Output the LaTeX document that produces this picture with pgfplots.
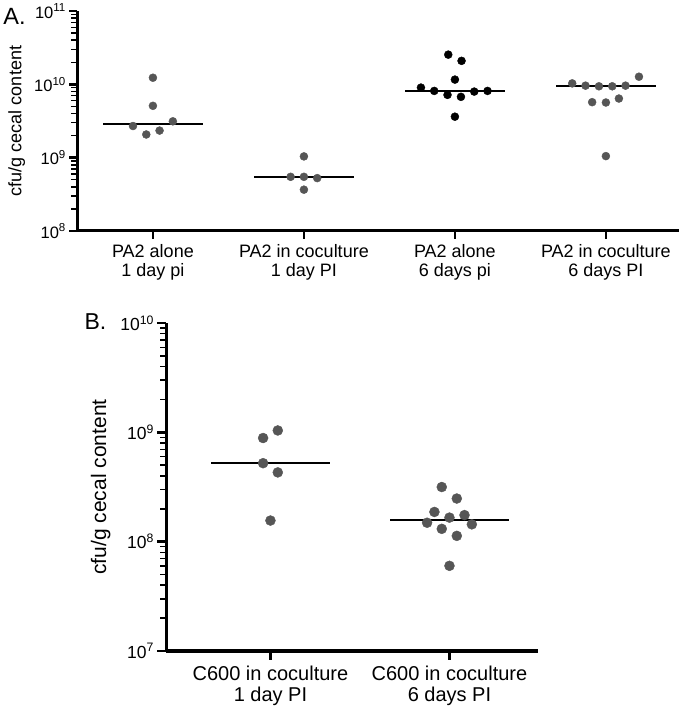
\documentclass[border=0pt]{standalone}
\usepackage{fontspec}
\setmainfont{Liberation Sans}
\usepackage{pgfplots}
\pgfplotsset{compat=1.18}
\definecolor{dotgray}{RGB}{86,86,86}

\begin{document}
\begin{tikzpicture}
\path (0,0) rectangle (680pt,710pt);

% Panel A
\begin{axis}[
  scale only axis, anchor=south west, ymode=log,
  axis x line*=bottom, axis y line*=left,
  axis line style={line width=3pt, black},
  tick align=outside,
  xtick pos=bottom, ytick pos=left,
  major tick length=8pt, minor tick length=6pt,
  tick style={black, line width=2.5pt},
  minor tick style={black, line width=1.5pt},
  at={(76pt,479pt)}, width=602pt, height=220pt,
  xmin=0.5, xmax=4.487, ymin=1e8, ymax=1e11,
  xtick={1,2,3,4},
  xticklabels={PA2 alone\\1 day pi, PA2 in coculture\\1 day PI, PA2 alone\\6 days pi, PA2 in coculture\\6 days PI},
  xticklabel style={align=center, font=\fontsize{18}{18.5}\selectfont, yshift=-2pt},
  ytick={1e8,1e9,1e10,1e11},
  yticklabels={10\textsuperscript{8},10\textsuperscript{9},10\textsuperscript{10},10\textsuperscript{11}},
  yticklabel style={font=\fontsize{16.5}{16.5}\selectfont},
  minor ytick={2e8,3e8,4e8,5e8,6e8,7e8,8e8,9e8,2e9,3e9,4e9,5e9,6e9,7e9,8e9,9e9,2e10,3e10,4e10,5e10,6e10,7e10,8e10,9e10},
  ylabel={cfu/g cecal content},
  ylabel style={font=\fontsize{18}{18}\selectfont, at={(axis description cs:-0.101,0.5)}, anchor=center},
]
\addplot[only marks, mark=*, mark size=4pt, mark options={fill=dotgray, draw=dotgray}] coordinates {(1,1.23e10) (1,5.09e9) (0.868,2.70e9) (1.132,3.13e9) (0.956,2.07e9) (1.044,2.34e9)};
\addplot[black, line width=2pt, no marks] coordinates {(0.67,2.91e9) (1.33,2.91e9)};
\addplot[only marks, mark=*, mark size=4pt, mark options={fill=dotgray, draw=dotgray}] coordinates {(2,1.04e9) (1.912,5.48e8) (2,5.48e8) (2.088,5.26e8) (2,3.66e8)};
\addplot[black, line width=2pt, no marks] coordinates {(1.67,5.37e8) (2.33,5.37e8)};
\addplot[only marks, mark=*, mark size=4pt, mark options={fill=black, draw=black}] coordinates {(2.956,2.54e10) (3.044,2.09e10) (3,1.16e10) (2.775,9.02e9) (2.863,8.13e9) (2.951,7.18e9) (3.040,6.75e9) (3.128,7.96e9) (3.216,8.13e9) (3,3.62e9)};
\addplot[black, line width=2pt, no marks] coordinates {(2.67,8.04e9) (3.33,8.04e9)};
\addplot[only marks, mark=*, mark size=4pt, mark options={fill=dotgray, draw=dotgray}] coordinates {(3.777,1.03e10) (3.865,9.59e9) (3.954,9.40e9) (4.042,9.40e9) (4.130,9.59e9) (4.219,1.27e10) (3.909,5.71e9) (4,5.65e9) (4.086,6.40e9) (4,1.05e9)};
\addplot[black, line width=2pt, no marks] coordinates {(3.67,9.40e9) (4.33,9.40e9)};
\end{axis}

% Panel B
\begin{axis}[
  scale only axis, anchor=south west, ymode=log,
  axis x line*=bottom, axis y line*=left,
  axis line style={line width=3.3pt, black},
  tick align=outside,
  xtick pos=bottom, ytick pos=left,
  major tick length=9pt, minor tick length=6pt,
  tick style={black, line width=2.5pt},
  minor tick style={black, line width=1.5pt},
  at={(165pt,59pt)}, width=372pt, height=328pt,
  xmin=0.419, xmax=2.497, ymin=1e7, ymax=1e10,
  xtick={1,2},
  xticklabels={C600 in coculture\\1 day PI, C600 in coculture\\6 days PI},
  xticklabel style={align=center, font=\fontsize{20}{21}\selectfont, yshift=-3pt},
  ytick={1e7,1e8,1e9,1e10},
  yticklabels={10\textsuperscript{7},10\textsuperscript{8},10\textsuperscript{9},10\textsuperscript{10}},
  yticklabel style={font=\fontsize{17.5}{17.5}\selectfont},
  minor ytick={2e7,3e7,4e7,5e7,6e7,7e7,8e7,9e7,2e8,3e8,4e8,5e8,6e8,7e8,8e8,9e8,2e9,3e9,4e9,5e9,6e9,7e9,8e9,9e9},
  ylabel={cfu/g cecal content},
  ylabel style={font=\fontsize{21}{21}\selectfont, at={(axis description cs:-0.177,0.5)}, anchor=center},
]
\addplot[only marks, mark=*, mark size=5pt, mark options={fill=dotgray, draw=dotgray}] coordinates {(0.959,8.87e8) (1.041,1.04e9) (0.959,5.22e8) (1.041,4.30e8) (1,1.56e8)};
\addplot[black, line width=2pt, no marks] coordinates {(0.67,5.26e8) (1.33,5.26e8)};
\addplot[only marks, mark=*, mark size=5pt, mark options={fill=dotgray, draw=dotgray}] coordinates {(1.957,3.16e8) (2.041,2.48e8) (1.916,1.87e8) (2,1.66e8) (2.084,1.75e8) (1.875,1.49e8) (2.125,1.44e8) (1.957,1.31e8) (2.041,1.13e8) (2,6.01e7)};
\addplot[black, line width=2pt, no marks] coordinates {(1.67,1.58e8) (2.33,1.58e8)};
\end{axis}

\node[font=\fontsize{23.5}{23.5}\selectfont, anchor=center] at (13pt,694pt) {A.};
\node[font=\fontsize{23}{23}\selectfont, anchor=center] at (94pt,388pt) {B.};
\end{tikzpicture}
\end{document}
